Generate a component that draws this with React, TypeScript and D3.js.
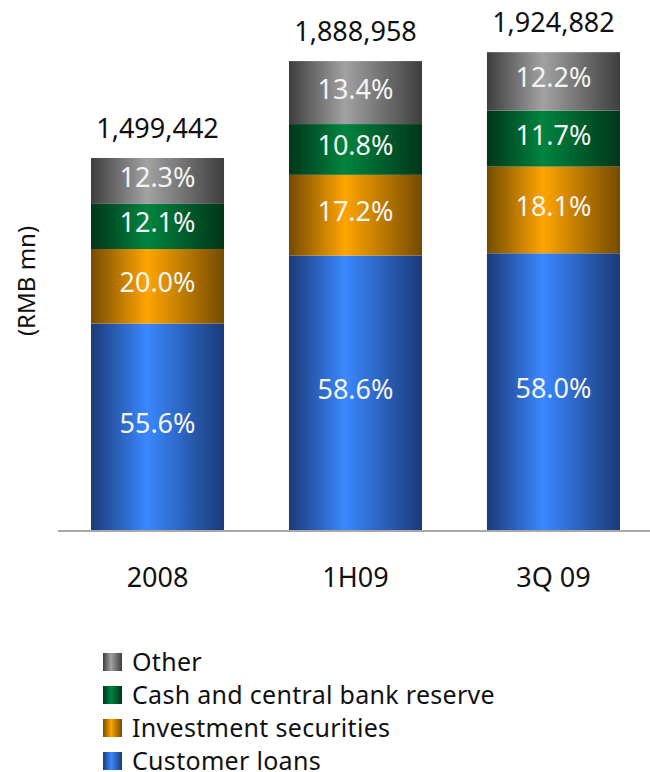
import React from "react";
import * as d3 from "d3";

const categories = ["2008", "1H09", "3Q 09"];
const totals = [1499442, 1888958, 1924882];
const seriesNames = ["Customer loans", "Investment securities", "Cash and central bank reserve", "Other"];
const customerLoans = [55.6, 58.6, 58.0];
const investmentSecurities = [20.0, 17.2, 18.1];
const cashReserve = [12.1, 10.8, 11.7];
const other = [12.3, 13.4, 12.2];
const seriesValues = [customerLoans, investmentSecurities, cashReserve, other];
const gradientStops = [
  { id: "gBlue", edge: "#1b3a78", mid: "#3a88ff" },
  { id: "gOrange", edge: "#754b00", mid: "#ffa500" },
  { id: "gGreen", edge: "#00361a", mid: "#00843e" },
  { id: "gGray", edge: "#3e3e3e", mid: "#a2a2a2" },
];

const W = 650;
const H = 772;
const FONT = "'Noto Sans', 'Open Sans', sans-serif";

export default function App() {
  const baseY = 531;
  const x = d3.scaleBand().domain(categories).range([91, 620]).paddingInner(0.328).paddingOuter(0);
  const y = d3.scaleLinear().domain([0, 1499442]).range([baseY, 158]);
  const fmt = d3.format(",");

  const legendOrder = [3, 2, 1, 0];

  return (
    <svg
      width={W}
      height={H}
      style={{ position: "absolute", left: 0, top: 0, display: "block", fontFamily: FONT }}
    >
      <defs>
        {gradientStops.map((g) => (
          <linearGradient key={g.id} id={g.id} x1="0" x2="1" y1="0" y2="0">
            <stop offset="0%" stopColor={g.edge} />
            <stop offset="42%" stopColor={g.mid} />
            <stop offset="100%" stopColor={g.edge} />
          </linearGradient>
        ))}
      </defs>
      <rect width={W} height={H} fill="#fff" />
      {categories.map((c, i) => {
        const x0 = x(c)!;
        const bw = x.bandwidth();
        let cum = 0;
        return (
          <g key={c}>
            {seriesValues.map((vals, s) => {
              const v0 = (cum / 100) * totals[i];
              cum += vals[i];
              const v1 = (cum / 100) * totals[i];
              const yTop = y(v1);
              const yBot = y(v0);
              return (
                <g key={s}>
                  <rect x={x0} y={yTop} width={bw} height={yBot - yTop} fill={`url(#${gradientStops[s].id})`} />
                  <text
                    x={x0 + bw / 2}
                    y={(yTop + yBot) / 2}
                    dy="0.22em"
                    textAnchor="middle"
                    fill="#f4f4f4"
                    fontSize={27}
                  >
                    {vals[i].toFixed(1)}%
                  </text>
                </g>
              );
            })}
            <text x={x0 + bw / 2} y={y(totals[i]) - 20} textAnchor="middle" fontSize={27} fill="#111">
              {fmt(totals[i])}
            </text>
            <text x={x0 + bw / 2} y={587} textAnchor="middle" fontSize={27} fill="#111">
              {c}
            </text>
          </g>
        );
      })}
      <line x1={58} x2={650} y1={baseY} y2={baseY} stroke="#a8a8a8" strokeWidth={2} />
      <text transform="translate(35,281) rotate(-90)" textAnchor="middle" fontSize={24} fill="#111">
        (RMB mn)
      </text>
      {legendOrder.map((s, k) => {
        const ly = 662 + k * 33;
        return (
          <g key={s}>
            <rect x={103} y={ly - 9} width={19} height={18} fill={`url(#${gradientStops[s].id})`} />
            <text x={132} y={ly} dy="0.36em" fontSize={25} letterSpacing={0.3} fill="#111">
              {seriesNames[s]}
            </text>
          </g>
        );
      })}
    </svg>
  );
}
